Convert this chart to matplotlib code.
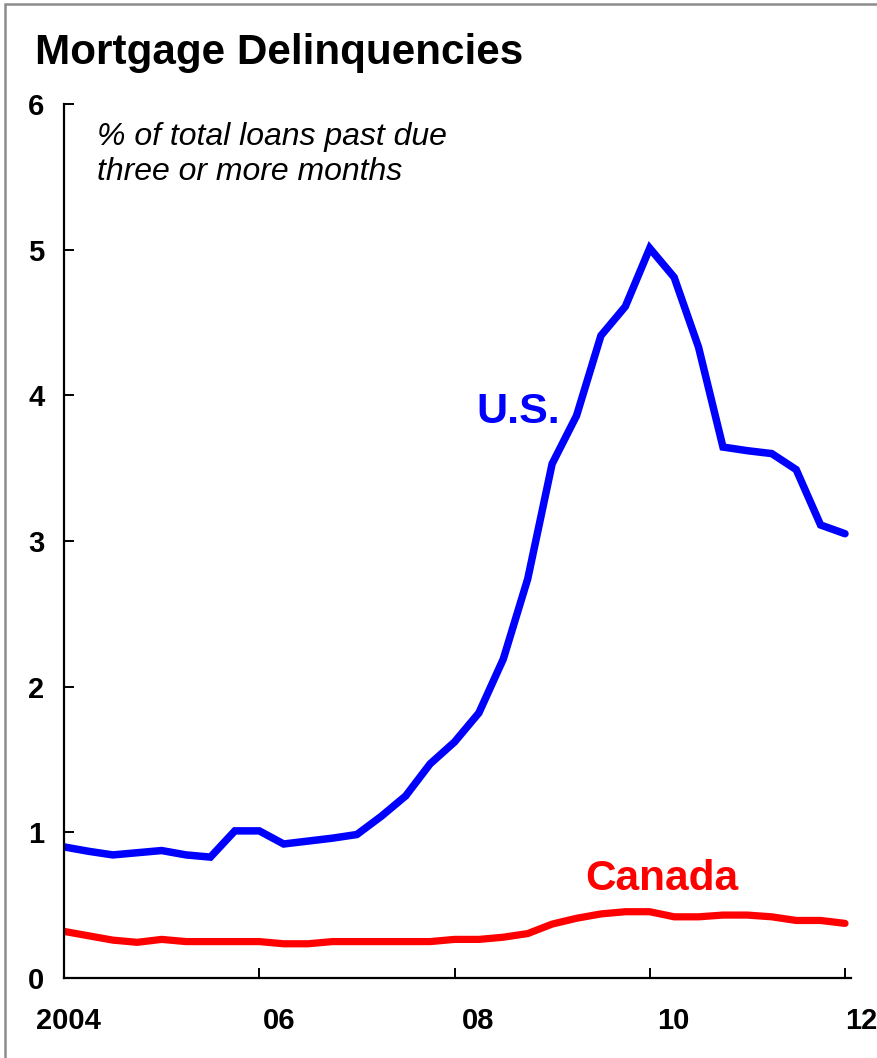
import matplotlib
matplotlib.use("Agg")
import matplotlib.pyplot as plt
from matplotlib.patches import Rectangle
import numpy as np

plt.rcParams['font.family'] = ['Liberation Sans', 'DejaVu Sans']

# Quarterly data, 2004Q1 .. 2012Q1
start_year = 2004
us = [0.90, 0.87, 0.845, 0.86, 0.875, 0.845, 0.83, 1.01, 1.01, 0.92, 0.94, 0.96,
      0.985, 1.11, 1.25, 1.47, 1.62, 1.82, 2.19, 2.74, 3.53, 3.86, 4.41, 4.61,
      5.01, 4.81, 4.33, 3.645, 3.62, 3.60, 3.49, 3.11, 3.05]
canada = [0.32, 0.29, 0.26, 0.245, 0.265, 0.25, 0.25, 0.25, 0.25, 0.235, 0.235, 0.25,
          0.25, 0.25, 0.25, 0.25, 0.265, 0.265, 0.28, 0.305, 0.37, 0.41, 0.44, 0.455,
          0.455, 0.42, 0.42, 0.432, 0.432, 0.42, 0.395, 0.395, 0.375]
x_ticks = [2004, 2006, 2008, 2010, 2012]
x_tick_labels = ["2004", "06", "08", "10", "12"]
y_ticks = [0, 1, 2, 3, 4, 5, 6]

t = start_year + np.arange(len(us)) / 4.0

W, H = 878, 1058
fig = plt.figure(figsize=(W / 100, H / 100), dpi=100)
fig.patch.set_facecolor('white')

# outer gray frame (left and top visible)
fig.patches.append(Rectangle((5 / W, -0.1), 1.2, 1.1 - 4 / H, transform=fig.transFigure,
                             fill=False, edgecolor='#8c8c8c', linewidth=1.8))

ax = fig.add_axes([64 / W, 1 - 978 / H, (851 - 64) / W, (978 - 104) / H])
ax.plot(t, us, color='#0000FF', linewidth=5.4, solid_joinstyle='miter', solid_capstyle='round')
ax.plot(t, canada, color='#FF0000', linewidth=5.2, solid_joinstyle='round', solid_capstyle='round')

px_per_year = (845 - 64) / 8.0
ax.set_xlim(2004, 2012 + 6 / px_per_year)
ax.set_ylim(0, 6)
for s in ['top', 'right']:
    ax.spines[s].set_visible(False)
for s in ['left', 'bottom']:
    ax.spines[s].set_linewidth(1.6)
    ax.spines[s].set_color('black')

ax.set_yticks(y_ticks)
ax.set_yticklabels([str(v) for v in y_ticks], fontsize=21, fontweight='bold')
ax.tick_params(axis='y', direction='in', length=7, width=1.4, pad=14)
ax.set_xticks(x_ticks)
ax.set_xticklabels([])
ax.tick_params(axis='x', direction='in', length=7, width=1.4)

# x tick labels placed like in the reference
offsets_px = [-28, 4, 7, 7, 0]
for xv, lab, off in zip(x_ticks, x_tick_labels, offsets_px):
    ax.text(xv + off / px_per_year, -51 / 874, lab, transform=ax.get_xaxis_transform(),
            ha='left', va='baseline', fontsize=21, fontweight='bold', clip_on=False)

fig.text(35 / W, 1 - 64 / H, "Mortgage Delinquencies", fontsize=30.4, fontweight='bold',
         ha='left', va='baseline')
fig.text(97 / W, 1 - 145 / H, "% of total loans past due", fontsize=23, fontstyle='italic',
         ha='left', va='baseline')
fig.text(97 / W, 1 - 180 / H, "three or more months", fontsize=23, fontstyle='italic',
         ha='left', va='baseline')
fig.text(476 / W, 1 - 423 / H, "U.S.", fontsize=31, fontweight='bold', color='#0000FF',
         ha='left', va='baseline')
fig.text(585 / W, 1 - 890 / H, "Canada", fontsize=30.5, fontweight='bold', color='#FF0000',
         ha='left', va='baseline')

fig.savefig('out.png', dpi=100, facecolor='white')
